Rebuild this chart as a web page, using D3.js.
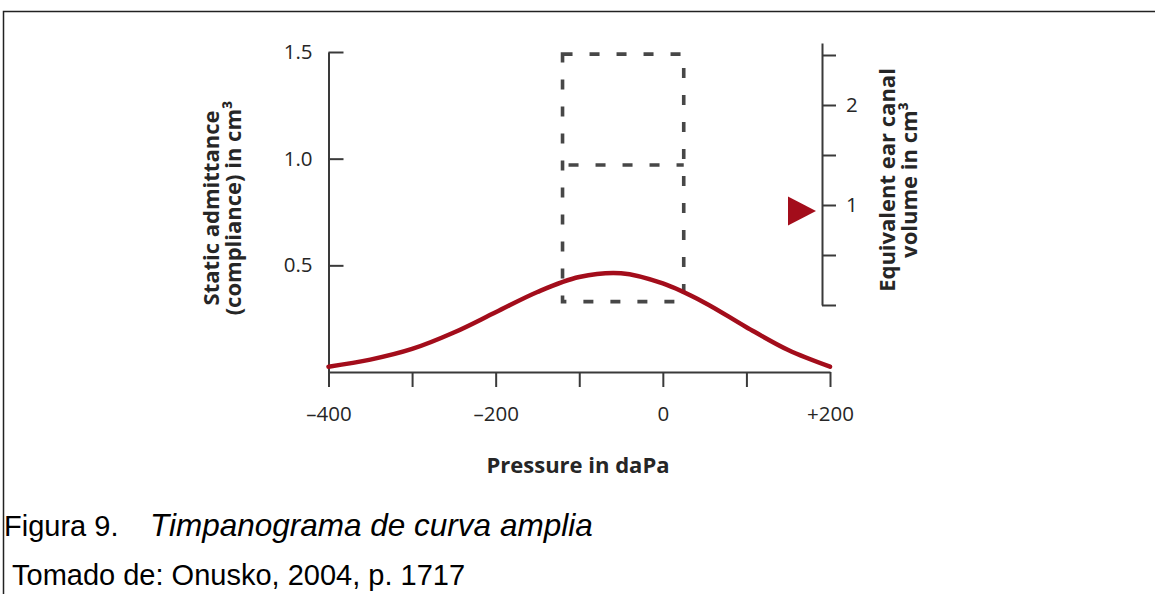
<!DOCTYPE html>
<meta charset="utf-8">
<style>
    body { margin: 0; background: #fff; }
    svg { display: block; }
    .axis path, .axis line { stroke: #3a3a3a; stroke-width: 2; }
    .axis text { font-family: "Open Sans", sans-serif; font-size: 20.5px; fill: #262626; }
    .title { font-family: "Open Sans", sans-serif; font-weight: 700; font-size: 22px; fill: #262626; }
    .caption { font-family: "Liberation Sans", Arial, sans-serif; font-size: 29px; fill: #000; }
</style>
<body>
<svg></svg>
</body>
<script src="https://d3js.org/d3.v7.min.js"></script>
<script>
    // pressure axis (daPa)
    var pressureTicks = [-400, -300, -200, -100, 0, 100, 200];
    var pressureLabels = {"-400": "\u2013400", "-200": "\u2013200", "0": "0", "200": "+200"};

    // static admittance axis (cm3)
    var complianceTicks = [0.5, 1.0, 1.5];

    // equivalent ear canal volume axis (cm3)
    var volumeTicks = [0, 0.5, 1, 1.5, 2, 2.5];
    var volumeLabels = {"1": "1", "2": "2"};

    // tympanogram curve
    var curvePressure = [-400, -350, -300, -250, -200, -150, -100, -50, 0, 50, 100, 150, 200];
    var curveCompliance = [0.025, 0.058, 0.108, 0.185, 0.28, 0.375, 0.445, 0.463, 0.415, 0.325, 0.21, 0.103, 0.025];

    // dashed normal-range box
    var boxPressure = [-120, 25];
    var boxCompliance = [0.33, 0.97, 1.49];

    // measured ear canal volume marker
    var earCanalVolume = 0.94;

    var width = 1155, height = 594;

    var svg = d3.select("svg")
        .attr("width", width)
        .attr("height", height);

    // frame of the scanned page
    svg.append("path")
        .attr("d", "M3.5,594V11.5H1155")
        .attr("fill", "none")
        .attr("stroke", "#222")
        .attr("stroke-width", 1.5);

    var x = d3.scaleLinear().domain([-400, 200]).range([328.5, 830]);
    var y = d3.scaleLinear().domain([0, 1.5]).range([372, 52]);
    var yVol = d3.scaleLinear().domain([0, 2.62]).range([305, 43]);

    // dashed box
    var dash = svg.append("g")
        .attr("fill", "none")
        .attr("stroke", "#474747")
        .attr("stroke-width", 3.6)
        .attr("stroke-dasharray", "10,17");

    dash.append("rect")
        .attr("x", x(boxPressure[0]))
        .attr("y", y(boxCompliance[2]))
        .attr("width", x(boxPressure[1]) - x(boxPressure[0]))
        .attr("height", y(boxCompliance[0]) - y(boxCompliance[2]));

    dash.append("line")
        .attr("x1", x(boxPressure[0]) + 6)
        .attr("x2", x(boxPressure[1]))
        .attr("y1", y(boxCompliance[1]))
        .attr("y2", y(boxCompliance[1]));

    // x axis
    svg.append("g")
        .attr("class", "axis")
        .attr("transform", "translate(0," + y(0) + ")")
        .call(d3.axisBottom(x)
            .tickValues(pressureTicks)
            .tickSize(15)
            .tickSizeOuter(0)
            .tickPadding(19)
            .tickFormat(function (d) { return pressureLabels[d] || ""; }));

    // left axis
    svg.append("g")
        .attr("class", "axis")
        .attr("transform", "translate(" + x(-400) + ",0)")
        .call(d3.axisLeft(y)
            .tickValues(complianceTicks)
            .tickSize(-15)
            .tickSizeOuter(0)
            .tickPadding(16)
            .tickFormat(d3.format(".1f")));

    // right axis
    svg.append("g")
        .attr("class", "axis")
        .attr("transform", "translate(822,0)")
        .call(d3.axisRight(yVol)
            .tickValues(volumeTicks)
            .tickSize(14)
            .tickSizeOuter(0)
            .tickPadding(10)
            .tickFormat(function (d) { return volumeLabels[d] || ""; }));

    // curve
    var line = d3.line()
        .x(function (d) { return x(d[0]); })
        .y(function (d) { return y(d[1]); })
        .curve(d3.curveCatmullRom.alpha(0.5));

    svg.append("path")
        .datum(d3.zip(curvePressure, curveCompliance))
        .attr("fill", "none")
        .attr("stroke", "#a30d1b")
        .attr("stroke-width", 4.5)
        .attr("stroke-linecap", "round")
        .attr("d", line);

    // ear canal volume marker
    var ty = yVol(earCanalVolume);
    svg.append("path")
        .attr("d", "M" + 816 + "," + ty + "L" + 788 + "," + (ty - 14.5) + "L" + 788 + "," + (ty + 14.5) + "Z")
        .attr("fill", "#a30d1b");

    // axis titles
    var left = svg.append("text")
        .attr("class", "title")
        .attr("text-anchor", "middle")
        .attr("transform", "translate(211,208) rotate(-90)");
    left.append("tspan").attr("x", 0).attr("dy", "0.35em").text("Static admittance");
    left.append("tspan").attr("x", 0).attr("dy", 22).text("(compliance) in cm\u00b3");

    var right = svg.append("text")
        .attr("class", "title")
        .attr("text-anchor", "middle")
        .attr("transform", "translate(887,180) rotate(-90)");
    right.append("tspan").attr("x", 0).attr("dy", "0.35em").text("Equivalent ear canal");
    right.append("tspan").attr("x", 0).attr("dy", 22).text("volume in cm\u00b3");

    svg.append("text")
        .attr("class", "title")
        .attr("text-anchor", "middle")
        .attr("x", 578)
        .attr("y", 473)
        .text("Pressure in daPa");

    // caption
    var cap1 = svg.append("text")
        .attr("class", "caption")
        .attr("x", 4)
        .attr("y", 536);
    cap1.append("tspan").text("Figura 9.");
    cap1.append("tspan").attr("x", 150).style("font-style", "italic").style("font-size", "31.5px")
        .text("Timpanograma de curva amplia");

    svg.append("text")
        .attr("class", "caption")
        .attr("x", 12)
        .attr("y", 585)
        .text("Tomado de: Onusko, 2004, p. 1717");
</script>
</html>
